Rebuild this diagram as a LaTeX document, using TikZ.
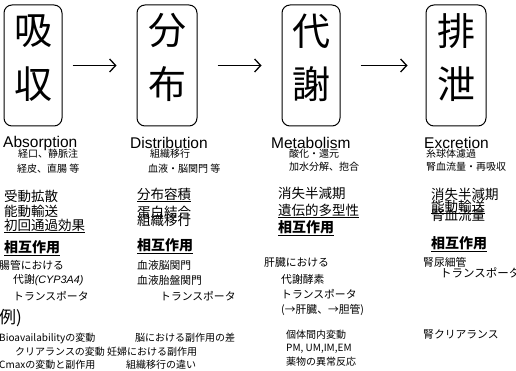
\documentclass[tikz,border=0pt]{standalone}
\usepackage{fontspec}
\setmainfont{Noto Sans CJK JP}
\newfontfamily\latfont{Liberation Sans}
\usetikzlibrary{arrows.meta}
\tikzset{
  stage/.style={draw, line width=1pt, rounded corners=8pt, minimum width=58pt, minimum height=121pt, inner sep=0pt},
  bigch/.style={font=\fontsize{38}{38}\selectfont, inner sep=0pt},
  flow/.style={line width=1.6pt, -{Straight Barb[length=6pt,width=13pt,line width=1.3pt]}},
  head/.style={font=\latfont\fontsize{15.5}{15.5}\selectfont, inner sep=0pt, anchor=west},
  sm/.style={font=\fontsize{10}{10}\selectfont, inner sep=0pt, anchor=west},
  mainl/.style={font=\fontsize{13.5}{13.5}\selectfont, inner sep=0pt, anchor=west},
  midl/.style={font=\fontsize{10.8}{10.8}\selectfont, inner sep=0pt, anchor=west},
  bot/.style={font=\fontsize{10}{10}\selectfont, inner sep=0pt, anchor=west},
  inter/.style={font=\bfseries\fontsize{14}{14}\selectfont, inner sep=0pt, anchor=west},
}
\begin{document}
\begin{tikzpicture}[x=1pt,y=-1pt]
\useasboundingbox (0,0) rectangle (516,371);
% stage boxes
\node[stage] (ab) at (33,65.5) {};
\node[stage, minimum width=60pt] (di) at (167,65.5) {};
\node[stage] (me) at (311,65.5) {};
\node[stage, minimum width=60pt] (ex) at (456,65.5) {};
\node[bigch] (ab1) at (33,31) {吸};
\node[bigch] (ab2) at (33,84) {収};
\node[bigch] (di1) at (167,31) {分};
\node[bigch] (di2) at (167,84) {布};
\node[bigch] (me1) at (311,31) {代};
\node[bigch] (me2) at (311,84) {謝};
\node[bigch] (ex1) at (456,31) {排};
\node[bigch] (ex2) at (456,84) {泄};
\draw[flow, shorten <=10pt, shorten >=20pt] (ab.east) -- (di.west);
\draw[flow, shorten <=20pt, shorten >=20pt] (di.east) -- (me.west);
\draw[flow, shorten <=20pt, shorten >=18pt] (me.east) -- (ex.west);
% headings
\node[head] (h1) at (3,143) {Absorption};
\node[sm] (a1) at (18,154) {経口、静脈注};
\node[sm] (a2) at (17,169) {経皮、直腸\ 等};
\node[head] (h2) at (130,143) {Distribution};
\node[sm] (d1) at (150,154) {組織移行};
\node[sm] (d2) at (148,169) {血液・脳関門\ 等};
\node[head] (h3) at (271,143) {Metabolism};
\node[sm] (m1) at (289,154) {酸化・還元};
\node[sm] (m2) at (289,167) {加水分解、抱合};
\node[head] (h4) at (424,143) {Excretion};
\node[sm] (e1) at (426,154) {糸球体濾過};
\node[sm] (e2) at (426,167) {腎血流量・再吸収};
% absorption list
\node[mainl] (a3) at (4,196) {受動拡散};
\node[mainl] (a4) at (4,211) {能動輸送};
\node[mainl] (a5) at (4,226) {\underline{初回通過効果}};
\node[inter] (a6) at (4,248) {\underline{相互作用}};
\node[midl] (a7) at (-1,265) {腸管における};
\node[midl] (a8) at (13,280) {代謝{\latfont\itshape (CYP3A4)}};
\node[midl] (a9) at (13,296) {トランスポータ};
% distribution list
\node[mainl] (d3) at (137,195) {\underline{分布容積}};
\node[mainl] (d4) at (137,212) {蛋白結合};
\node[mainl] (d5) at (137,220) {組織移行};
\node[inter] (d6) at (137,246) {\underline{相互作用}};
\node[midl] (d7) at (137,265) {血液脳関門};
\node[midl] (d8) at (137,280) {血液胎盤関門};
\node[midl] (d9) at (160,296) {トランスポータ};
% metabolism list
\node[mainl] (m3) at (278,193) {消失半減期};
\node[mainl] (m4) at (278,211) {\underline{遺伝的多型性}};
\node[inter] (m5) at (278,228) {\underline{相互作用}};
\node[midl] (m6) at (264,262) {肝臓における};
\node[midl] (m7) at (281,279) {代謝酵素};
\node[midl] (m8) at (281,294) {トランスポータ};
\node[midl] (m9) at (281,310) {(→肝臓、→胆管)};
\node[bot] (m10) at (286,335) {個体間内変動};
\node[bot] (m11) at (286,349) {PM, UM,IM,EM};
\node[bot] (m12) at (286,362) {薬物の異常反応};
% excretion list
\node[mainl] (e3) at (431,194) {消失半減期};
\node[mainl] (e4) at (431,207) {\underline{能動輸送}};
\node[mainl] (e5) at (431,215) {腎血流量};
\node[inter] (e6) at (431,244) {\underline{相互作用}};
\node[midl] (e7) at (423,262) {腎尿細管};
\node[midl, font=\fontsize{11.5}{11.5}\selectfont] (e8) at (440,273) {トランスポータ};
\node[midl] (e9) at (423,335) {腎クリアランス};
% examples
\node[font=\fontsize{17}{17}\selectfont, inner sep=0pt, anchor=west] (x0) at (-1,318) {例)};
\node[bot] (x1) at (-1,338) {Bioavailabilityの変動};
\node[bot] (x2) at (15,352) {クリアランスの変動};
\node[bot] (x3) at (-1,365) {Cmaxの変動と副作用};
\node[bot] (x4) at (135,338) {脳における副作用の差};
\node[bot] (x5) at (107,352) {妊婦における副作用};
\node[bot] (x6) at (126,365) {組織移行の違い};
\end{tikzpicture}
\end{document}
